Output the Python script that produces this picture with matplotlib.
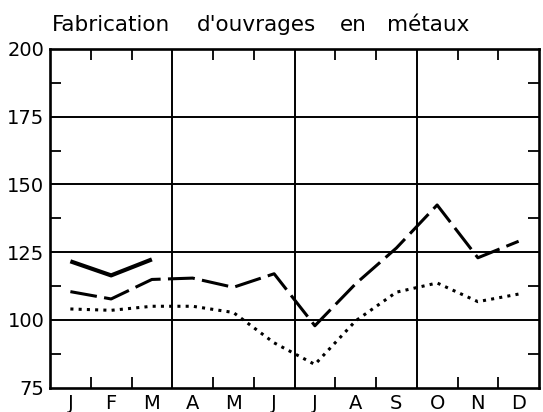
import matplotlib
matplotlib.use("Agg")
import matplotlib.pyplot as plt
import numpy as np

months = ['J', 'F', 'M', 'A', 'M', 'J', 'J', 'A', 'S', 'O', 'N', 'D']
solid_vals = [121.6, 116.4, 122.3]  # Jan-Mar only
dashed_vals = [110.4, 107.7, 114.9, 115.4, 112.0, 117.0, 97.8, 113.3, 126.5, 142.4, 122.9, 129.0]
dotted_vals = [104.0, 103.5, 105.0, 105.0, 102.7, 91.5, 83.5, 99.6, 110.2, 113.6, 106.7, 109.5]
y_ticks = [75, 100, 125, 150, 175, 200]
title_words = ["Fabrication", "d'ouvrages", "en", "métaux"]

W, H = 543, 412
fig = plt.figure(figsize=(W / 100, H / 100), dpi=100)
ax = fig.add_axes([50 / W, 1 - 387.5 / H, (539 - 50) / W, (387.5 - 49) / H])

x = np.arange(12) + 0.5
ax.plot(x[:len(solid_vals)], solid_vals, color='black', lw=3.0, solid_capstyle='butt', zorder=3)
ax.plot(x, dashed_vals, color='black', lw=2.2, dashes=(8.8, 2.4), dash_capstyle='butt', zorder=3)
ax.plot(x, dotted_vals, color='black', lw=2.2, dashes=(1, 1.7), dash_capstyle='butt', zorder=3)

ax.set_xlim(0, 12)
ax.set_ylim(75, 200)

# grid
for v in [100, 125, 150, 175]:
    ax.axhline(v, color='black', lw=1.4, zorder=1)
for v in [3, 6, 9]:
    ax.axvline(v, color='black', lw=1.4, zorder=1)

for s in ax.spines.values():
    s.set_linewidth(1.9)

ax.set_xticks(x)
ax.set_xticklabels(months)
ax.set_xticks([1, 2, 4, 5, 7, 8, 10, 11], minor=True)
ax.set_yticks(y_ticks)
ax.set_yticks([87.5, 112.5, 137.5, 162.5, 187.5], minor=True)

ax.tick_params(axis='x', which='major', length=0, pad=5, labelsize=14)
ax.tick_params(axis='y', which='major', length=0, pad=4, labelsize=14)
ax.tick_params(axis='both', which='minor', direction='in', length=8, width=1.3,
               top=True, right=True, bottom=True, left=True)

# title, word by word to mimic the wide letter spacing of the original
word_centres_px = [111.5, 257, 353.5, 428]
for w, cx in zip(title_words, word_centres_px):
    fig.text(cx / W, 1 - 31 / H, w, fontsize=15.5, ha='center', va='baseline')

fig.savefig("out.png", dpi=100)
